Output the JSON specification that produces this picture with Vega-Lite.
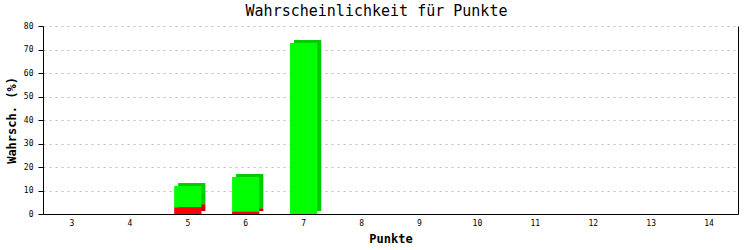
{
  "$schema": "https://vega.github.io/schema/vega-lite/v6.json",
  "width": 695,
  "height": 188,
  "autosize": "none",
  "padding": {"left": 43, "top": 26, "right": 15, "bottom": 36},
  "background": "white",
  "config": {
    "view": {"stroke": null},
    "font": "DejaVu Sans Mono"
  },
  "title": {
    "text": "Wahrscheinlichkeit für Punkte",
    "font": "DejaVu Sans Mono",
    "fontSize": 15,
    "fontWeight": "normal",
    "color": "black",
    "offset": 3,
    "dx": -14
  },
  "data": {
    "values": [
      {"Punkte": 5, "Teil": "rot", "Wert": 2.9},
      {"Punkte": 5, "Teil": "grün", "Wert": 9.0},
      {"Punkte": 6, "Teil": "rot", "Wert": 1.2},
      {"Punkte": 6, "Teil": "grün", "Wert": 14.5},
      {"Punkte": 7, "Teil": "grün", "Wert": 72.8}
    ]
  },
  "encoding": {
    "x": {
      "field": "Punkte",
      "type": "ordinal",
      "scale": {"domain": [3, 4, 5, 6, 7, 8, 9, 10, 11, 12, 13, 14], "paddingInner": 0, "paddingOuter": 0},
      "axis": {
        "title": "Punkte",
        "titleFont": "DejaVu Sans Mono",
        "titleFontSize": 12,
        "titleFontWeight": "bold",
        "titlePadding": 6,
        "labelAngle": 0,
        "labelFont": "DejaVu Sans Mono",
        "labelFontSize": 8,
        "labelColor": "black",
        "labelPadding": 5,
        "ticks": false,
        "domainColor": "black",
        "grid": false
      }
    },
    "order": {"field": "Teil", "sort": "descending"}
  },
  "layer": [
    {
      "mark": {"type": "bar", "width": {"band": 0.47}, "xOffset": 4, "yOffset": -3, "y2Offset": 0},
      "encoding": {
        "y": {
          "field": "Wert",
          "type": "quantitative",
          "stack": "zero",
          "scale": {"domain": [0, 80], "nice": false},
          "axis": {
            "title": "Wahrsch. (%)",
            "titleFont": "DejaVu Sans Mono",
            "titleFontSize": 12,
            "titleFontWeight": "bold",
            "titlePadding": 5,
            "values": [0, 10, 20, 30, 40, 50, 60, 70, 80],
            "labelFont": "DejaVu Sans Mono",
            "labelFontSize": 8,
            "labelColor": "black",
            "labelPadding": 5,
            "tickSize": 5,
            "tickColor": "black",
            "domainColor": "black",
            "grid": true,
            "gridColor": "#bbbbbb",
            "gridDash": [2, 4]
          }
        },
        "color": {
          "field": "Teil",
          "type": "nominal",
          "scale": {"domain": ["rot", "grün"], "range": ["#cc0000", "#00cc00"]},
          "legend": null
        }
      }
    },
    {
      "mark": {"type": "bar", "width": {"band": 0.47}},
      "encoding": {
        "y": {
          "field": "Wert",
          "type": "quantitative",
          "stack": "zero",
          "scale": {"domain": [0, 80], "nice": false},
          "axis": null
        },
        "color": {
          "field": "Teil",
          "type": "nominal",
          "scale": {"domain": ["rot", "grün"], "range": ["#ff0000", "#00ff00"]},
          "legend": null
        }
      }
    },
    {
      "mark": {"type": "rule", "opacity": 0},
      "encoding": {
        "y": {
          "field": "Wert",
          "type": "quantitative",
          "scale": {"domain": [0, 80], "nice": false},
          "axis": {
            "orient": "right",
            "title": null,
            "labels": false,
            "ticks": false,
            "grid": false,
            "domainColor": "black"
          }
        }
      }
    }
  ],
  "resolve": {"scale": {"color": "independent"}, "axis": {"y": "independent"}}
}
